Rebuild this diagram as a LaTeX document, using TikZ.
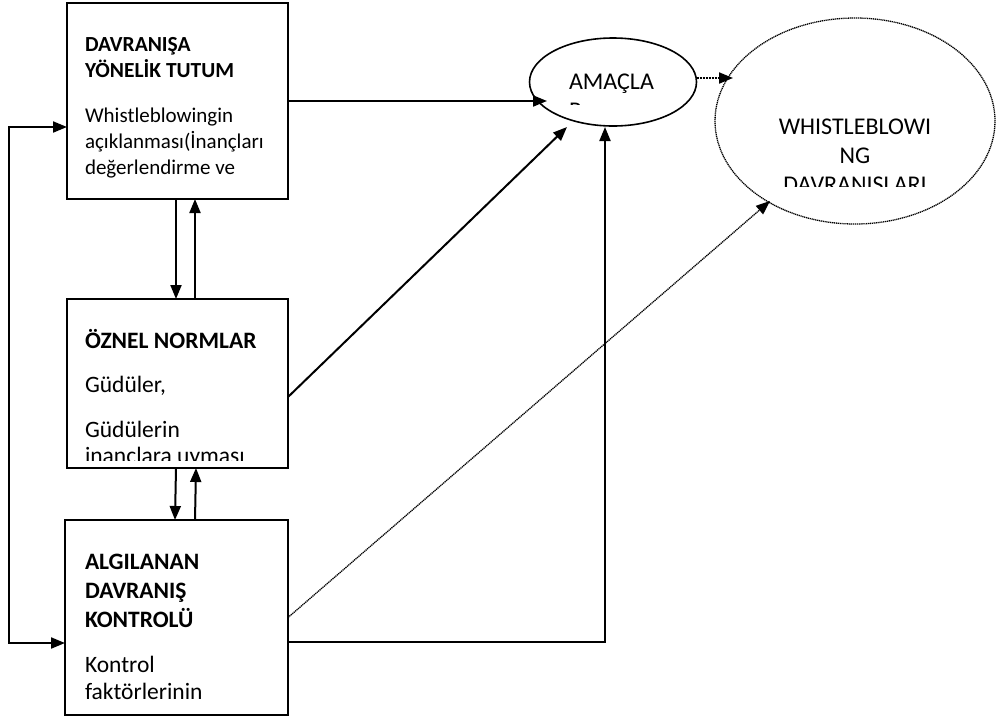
\documentclass[tikz,border=0pt]{standalone}
\usepackage{fontspec}
\setmainfont{Carlito}
\usetikzlibrary{positioning, arrows.meta, shapes.geometric}

\tikzset{
  box/.style={draw, line width=2pt, minimum width=221pt},
  arr/.style={line width=2pt, -{Triangle[length=14pt,width=11pt]}},
  darr/.style={line width=2pt, densely dotted, -{Triangle[length=14pt,width=11pt]}},
  fine/.style={dash pattern=on 1.2pt off 0.7pt},
  hd/.style={font=\fontsize{21.5}{26}\selectfont\bfseries, anchor=base west},
  tx/.style={font=\fontsize{21}{26}\selectfont, anchor=base west},
  hdb/.style={font=\fontsize{23.5}{#1}\selectfont\bfseries, anchor=base west},
  txb/.style={font=\fontsize{23.5}{#1}\selectfont, anchor=base west},
  etx/.style={font=\fontsize{24}{29}\selectfont},
}

\begin{document}
\begin{tikzpicture}[x=1pt,y=-1pt,every node/.style={inner sep=0,outer sep=0}]
  \useasboundingbox (0,0) rectangle (996,721);

  % boxes
  \node(tutum)[box, minimum height=196pt] at (177.5,101){};
  \node(normlar)[box, minimum height=169pt] at (177.5,383.5){};
  \node(kontrol)[box, minimum width=223pt, minimum height=195pt] at (176.5,617.5){};

  % ellipses
  \node(amac)[ellipse, draw, line width=1.6pt, minimum width=167pt, minimum height=88pt] at (613,82){};
  \node(whb)[ellipse, draw, fine, line width=1.3pt, minimum width=280pt, minimum height=206pt] at (855,121){};

  % text of box 1
  \node(t11)[hd] at (85,51){DAVRANIŞA\strut};
  \node(t12)[hd, below=0mm of t11.south west, anchor=north west]{YÖNELİK TUTUM\strut};
  \node(t13)[tx, below=19pt of t12.south west, anchor=north west]{Whistleblowingin\strut};
  \node(t14)[tx, below=0mm of t13.south west, anchor=north west]{açıklanması(İnançları\strut};
  \node(t15)[tx, below=0mm of t14.south west, anchor=north west]{değerlendirme ve\strut};

  % text of box 2
  \node(t21)[hdb=26] at (85,348){ÖZNEL NORMLAR\strut};
  \node(t22)[txb=26, below=18pt of t21.south west, anchor=north west]{Güdüler,\strut};
  \node(t23)[txb=26, below=19pt of t22.south west, anchor=north west]{Güdülerin\strut};
  \begin{scope}
    \clip (70,300) rectangle (285,460);
    \node(t24)[txb=26, below=0mm of t23.south west, anchor=north west]{inançlara uyması\strut};
  \end{scope}

  % text of box 3
  \node(t31)[hdb=29] at (85,569){ALGILANAN\strut};
  \node(t32)[hdb=29, below=0mm of t31.south west, anchor=north west]{DAVRANIŞ\strut};
  \node(t33)[hdb=29, below=0mm of t32.south west, anchor=north west]{KONTROLÜ\strut};
  \node(t34)[txb=27, below=18pt of t33.south west, anchor=north west]{Kontrol\strut};
  \node(t35)[txb=27, below=0mm of t34.south west, anchor=north west]{faktörlerinin\strut};

  % text of the ellipses
  \node(a1)[etx, anchor=base west] at (569,89){AMAÇLA\strut};
  \begin{scope}
    \clip (540,40) rectangle (690,104);
    \node(a2)[etx, below=0mm of a1.south west, anchor=north west]{R\strut};
  \end{scope}
  \node(w1)[etx, anchor=base] at (855,134){WHISTLEBLOWI\strut};
  \node(w2)[etx, below=0mm of w1]{NG\strut};
  \begin{scope}
    \clip (740,40) rectangle (970,186);
    \node(w3)[etx, below=0mm of w2]{DAVRANIŞLARI\strut};
  \end{scope}

  % arrow tips on the ellipses
  \coordinate(p1) at (547,101);
  \coordinate(p2) at (567,127);
  \coordinate(p3) at (605,127);
  \coordinate(p4) at (733,78);
  \coordinate(p5) at (770,201);

  \draw[arr](tutum.east)--(p1);
  \draw[arr]([yshift=-13.5pt]normlar.east)--(p2);
  \draw[arr]([yshift=-24.5pt]kontrol.east)-|(p3);
  \draw[darr]([yshift=4pt]amac.east)--(p4);
  \draw[line width=1.3pt, fine, -{Triangle[length=14pt,width=11pt]}](kontrol.east)--(p5);

  \draw[arr]([xshift=-1.5pt]tutum.south)--([xshift=-1.5pt]normlar.north);
  \draw[arr]([xshift=17.5pt]normlar.north)--([xshift=17.5pt]tutum.south);
  \draw[arr]([xshift=-1.5pt]normlar.south)--([xshift=-1.5pt]kontrol.north);
  \draw[arr]([xshift=18.5pt]kontrol.north)--([xshift=18.5pt]normlar.south);

  \draw[line width=2pt, {Triangle[length=14pt,width=11pt]}-{Triangle[length=14pt,width=11pt]}]
    ([yshift=-26pt]tutum.west)-|(9,380)|-([yshift=-25.5pt]kontrol.west);
\end{tikzpicture}
\end{document}
